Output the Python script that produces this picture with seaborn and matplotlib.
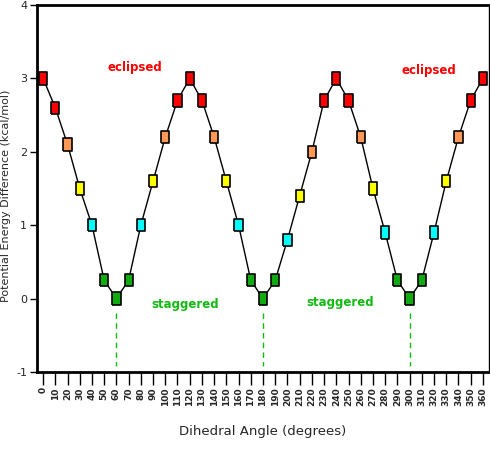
import matplotlib
matplotlib.use("Agg")
import matplotlib.pyplot as plt
import seaborn as sns
import pandas as pd
import numpy as np

angles = list(range(0, 361, 10))
energy = [3.0, 2.6, 2.1, 1.5, 1.0, 0.25, 0.0, 0.25, 1.0, 1.6, 2.2, 2.7,
          3.0, 2.7, 2.2, 1.6, 1.0, 0.25, 0.0, 0.25, 0.8, 1.4, 2.0, 2.7,
          3.0, 2.7, 2.2, 1.5, 0.9, 0.25, 0.0, 0.25, 0.9, 1.6, 2.2, 2.7, 3.0]
staggered_angles = [60, 180, 300]
band_edges = [0.5, 1.2, 1.8, 2.4]
band_names = ["low", "midlow", "mid", "midhigh", "high"]
band_colors = {"low": "#11aa11", "midlow": "#00ffff", "mid": "#ffff00",
               "midhigh": "#ff9955", "high": "#ff0000"}
xtick_labels = [str(a) for a in angles]
ytick_vals = [-1, 0, 1, 2, 3, 4]

df = pd.DataFrame({"angle": angles, "energy": energy})
df["band"] = [band_names[int(np.searchsorted(band_edges, e))] for e in energy]

sns.set_theme(style="white")
plt.rcParams['font.family'] = ['DejaVu Sans']

fig = plt.figure(figsize=(4.9, 4.49), dpi=100)
ax = fig.add_axes([37/490, 1-372/449, (489-37)/490, (372-5)/449])

sns.lineplot(data=df, x="angle", y="energy", color="black", linewidth=1.0, ax=ax, zorder=2)
rect = [(-0.33, -0.5), (0.33, -0.5), (0.33, 0.5), (-0.33, 0.5), (-0.33, -0.5)]
sns.scatterplot(data=df, x="angle", y="energy", hue="band", palette=band_colors,
                marker=rect, s=80, edgecolor="black", linewidth=1.2, legend=False,
                ax=ax, zorder=3)

for a in staggered_angles:
    ax.plot([a, a], [-0.19, -0.92], color="#11bb11", linestyle=(0, (4, 3)), linewidth=1.0, zorder=1)

ax.text(75, 3.15, "eclipsed", color="#ff0000", fontsize=8.5, fontweight="bold", ha="center", va="center")
ax.text(316, 3.11, "eclipsed", color="#ff0000", fontsize=8.5, fontweight="bold", ha="center", va="center")
ax.text(116, -0.08, "staggered", color="#11bb11", fontsize=8.5, fontweight="bold", ha="center", va="center")
ax.text(243, -0.05, "staggered", color="#11bb11", fontsize=8.5, fontweight="bold", ha="center", va="center")

ax.set_xlim(-5, 365)
ax.set_ylim(-1, 4)
ax.set_xticks(angles)
ax.set_xticklabels(xtick_labels, rotation=90, fontsize=6.5, fontweight="bold")
ax.set_yticks(ytick_vals)
ax.set_yticklabels([str(v) for v in ytick_vals], fontsize=8)
ax.tick_params(axis="x", direction="out", length=9, width=1, color="black", pad=2, bottom=True)
ax.tick_params(axis="y", direction="out", length=5, width=1, color="black", pad=2, left=True)
ax.set_xlabel("Dihedral Angle (degrees)", fontsize=9.5, labelpad=14)
ax.set_ylabel("Potential Energy Difference (kcal/mol)", fontsize=8)
ax.yaxis.set_label_coords(-0.057, 0.48)

for side in ["top", "left", "bottom"]:
    ax.spines[side].set_linewidth(2)
    ax.spines[side].set_color("black")
ax.spines["right"].set_linewidth(1)
ax.spines["right"].set_color("black")
ax.grid(False)

fig.savefig("out.png", dpi=100)
